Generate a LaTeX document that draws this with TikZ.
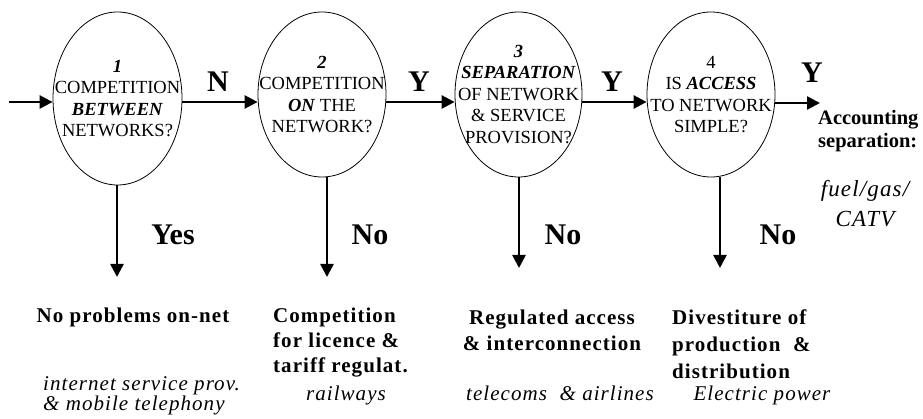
\documentclass[tikz,border=0pt]{standalone}
\usepackage{fontspec}
\setmainfont{Liberation Serif}
\newfontfamily\spacedfont[LetterSpace=5]{Liberation Serif}
\usetikzlibrary{arrows.meta,shapes.geometric}

\begin{document}
\begin{tikzpicture}[
  x=1pt,
  y=-1pt,
  question/.style={draw,line width=0.8pt,ellipse,inner xsep=-30pt,inner ysep=0pt,align=center,
    font=\fontsize{18.5}{21.5}\selectfont},
  flow/.style={line width=2.5pt,-{Triangle[length=13pt,width=13pt]}},
  answer/.style={font=\bfseries\fontsize{30}{30}\selectfont,inner sep=0pt},
  outcome/.style={inner sep=0pt,font=\spacedfont\bfseries\fontsize{21}{25}\selectfont},
  example/.style={inner sep=0pt,font=\spacedfont\itshape\fontsize{21}{19}\selectfont}
]
  % Keep the frame of the original figure.
  \useasboundingbox (0,0) rectangle (923,419);

  % The four questions of the decision chain.
  \node[question,minimum width=129pt,minimum height=173pt] (q1) at (117.5,98.5)
    {\textbf{\textit{1}}\\COMPETITION\\\textbf{\textit{BETWEEN}}\\NETWORKS?};
  \node[question,minimum width=128pt,minimum height=165pt] (q2) at (322,94.5)
    {\textbf{\textit{2}}\\COMPETITION\\\textbf{\textit{ON}} THE\\NETWORK?};
  \node[question,minimum width=127pt,minimum height=165pt] (q3) at (518.5,94.5)
    {\textbf{\textit{3}}\\\textbf{\textit{SEPARATION}}\\OF NETWORK\\\& SERVICE\\PROVISION?};
  \node[question,minimum width=128pt,minimum height=165pt] (q4) at (711,94.5)
    {4\\IS \textbf{\textit{ACCESS}}\\TO NETWORK\\SIMPLE?};

  % Free ends of the arrows.
  \coordinate (start) at (9,102);
  \coordinate (exit) at (820,103);
  \coordinate (drop1) at (117,277);
  \coordinate (drop2) at (327,277);
  \coordinate (drop3) at (519,268);
  \coordinate (drop4) at (720,268);

  % Main line through the questions.
  \draw[flow] (start) -- (q1.west |- start);
  \draw[flow] (q1.east |- start) -- (q2.west |- start);
  \draw[flow] (q2.east |- start) -- (q3.west |- start);
  \draw[flow] (q3.east |- start) -- (q4.west |- start);
  \draw[flow] (q4.east |- exit) -- (exit);

  % Branches down to the outcomes.
  \draw[flow] (q1.south -| drop1) -- (drop1);
  \draw[flow] (q2.south -| drop2) -- (drop2);
  \draw[flow] (q3.south -| drop3) -- (drop3);
  \draw[flow] (q4.south -| drop4) -- (drop4);

  % Answers on the arrows.
  \node[answer] (ans1) at (218,82) {N};
  \node[answer] (ans2) at (419,82) {Y};
  \node[answer] (ans3) at (612,82) {Y};
  \node[answer] (ans4) at (812,73) {Y};
  \node[answer] (yes1) at (173,235) {Yes};
  \node[answer] (no2) at (370,235) {No};
  \node[answer] (no3) at (563,235) {No};
  \node[answer] (no4) at (778,235) {No};

  % Outcomes and examples.
  \node[outcome,anchor=north] (res1) at (133,308) {No problems on-net};
  \node[example,anchor=north west,align=left] (ex1) at (43,376)
    {internet service prov.\\\& mobile telephony};
  \node[outcome,anchor=north west,align=left] (res2) at (273,308)
    {Competition\\for licence \&\\tariff regulat.};
  \node[example,anchor=north] (ex2) at (346,386) {railways};
  \node[outcome,anchor=north,align=center,font=\spacedfont\bfseries\fontsize{21}{26}\selectfont] (res3) at (552,310)
    {Regulated access\\\& interconnection};
  \node[example,anchor=north] (ex3) at (560,386) {telecoms \ \& airlines};
  \node[outcome,anchor=north west,align=left,font=\spacedfont\bfseries\fontsize{21}{27}\selectfont] (res4) at (672,310)
    {Divestiture of\\production \ \&\\distribution};
  \node[example,anchor=north] (ex4) at (762,386) {Electric power};
  \node[outcome,anchor=north west,align=left,font=\bfseries\fontsize{20.5}{23}\selectfont] (res5) at (818,110)
    {Accounting\\separation:};
  \node[example,anchor=north,align=center,font=\spacedfont\itshape\fontsize{23}{30}\selectfont] (ex5) at (865,180)
    {fuel/gas/\\CATV};
\end{tikzpicture}
\end{document}
